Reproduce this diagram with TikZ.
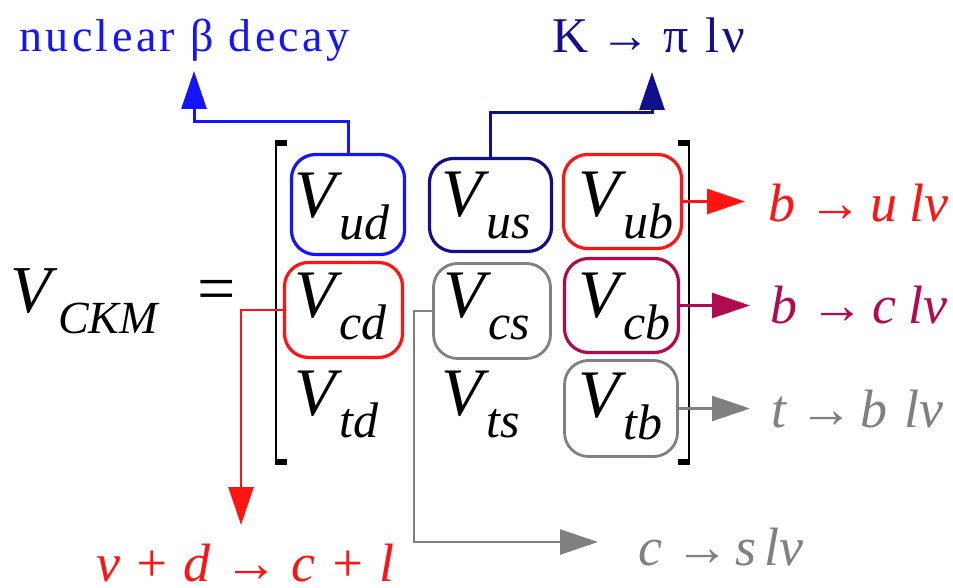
\documentclass[tikz,border=0pt]{standalone}
\usepackage{fontspec}
\setmainfont{Liberation Serif}
\usetikzlibrary{arrows.meta}
\definecolor{cblue}{RGB}{20,20,255}
\definecolor{cnavy}{RGB}{16,16,140}
\definecolor{cred}{RGB}{255,20,20}
\definecolor{ccrim}{RGB}{176,10,80}
\definecolor{cgray}{RGB}{128,128,128}
\newcommand\myV[1]{{\fontsize{68}{68}\selectfont\itshape V}\kern4pt\raisebox{-22pt}{\fontsize{50}{50}\selectfont\itshape #1}}
\begin{document}
\begin{tikzpicture}[x=1pt,y=-1pt,
  box/.style={draw, rounded corners=24pt, line width=3.2pt, inner sep=0pt},
  ent/.style={inner sep=0pt, anchor=base west},
  lab/.style={inner sep=0pt, anchor=base west},
  conn/.style={line width=3pt, -{Triangle[length=38pt,width=25pt]}},
  thin/.style={line width=2.6pt, -{Triangle[length=38pt,width=25pt]}}]
\useasboundingbox (0,0) rectangle (953,588);
% boxes
\node[box, draw=cblue, minimum width=113pt, minimum height=100pt] (ud) at (348,204.5) {};
\node[box, draw=cnavy, minimum width=122pt, minimum height=93pt] (us) at (490.5,205) {};
\node[box, draw=cred, minimum width=118pt, minimum height=94pt] (ub) at (622.5,201.5) {};
\node[box, draw=cred, minimum width=118pt, minimum height=95pt] (cd) at (343.5,310) {};
\node[box, draw=cgray, line width=2.8pt, minimum width=117pt, minimum height=95pt] (cs) at (492,311) {};
\node[box, draw=ccrim, minimum width=114pt, minimum height=94pt] (cb) at (621.5,305.5) {};
\node[box, draw=cgray, line width=2.8pt, minimum width=113pt, minimum height=96pt] (tb) at (621,408.5) {};
% entries
\node[ent] (eud) at (294,218) {\myV{ud}};
\node[ent] (eus) at (441,217) {\myV{us}};
\node[ent] (eub) at (578,217) {\myV{ub}};
\node[ent] (ecd) at (294,317) {\myV{cd}};
\node[ent] (ecs) at (443,317) {\myV{cs}};
\node[ent] (ecb) at (578,317) {\myV{cb}};
\node[ent] (etd) at (294,415) {\myV{td}};
\node[ent] (ets) at (441,415) {\myV{ts}};
\node[ent] (etb) at (578,417) {\myV{tb}};
% V_CKM and =
\node[ent] (vckm) at (10,312) {{\fontsize{67}{67}\selectfont\itshape V}\kern7pt\raisebox{-21pt}{\fontsize{46}{46}\selectfont\itshape CKM}};
\node[inner sep=0pt, anchor=base] (eq) at (216.5,311) {\fontsize{68}{68}\selectfont =};
% brackets
\draw[line width=2.5pt] (276,142) -- (276,463);
\fill (274.75,140) rectangle (287,146);
\fill (274.75,459) rectangle (287,465);
\draw[line width=2.5pt] (689,142) -- (689,463);
\fill (678,140) rectangle (690.25,146);
\fill (678,459) rectangle (690.25,465);
% labels
\node[lab, text=cblue] (lbeta) at (19,52) {\fontsize{46}{46}\selectfont\addfontfeature{LetterSpace=7.5}nuclear β decay};
\node[lab, text=cnavy] (lkpi) at (552,53) {\fontsize{50}{50}\selectfont K → π\kern4pt\ l\kern4ptν};
\node[lab, text=cred] (lbu) at (768,222) {\fontsize{54}{54}\selectfont\itshape b\ →\ \kern-6pt u\ \kern-1pt lν};
\node[lab, text=ccrim] (lbc) at (770,323) {\fontsize{54}{54}\selectfont\itshape b\ →\ \kern-6pt c\ \kern-1pt lν};
\node[lab, text=cgray] (ltb) at (771,427) {\fontsize{54}{54}\selectfont\itshape t\ →\ \kern-7pt b\ \kern4pt lν};
\node[lab, text=cred] (lnud) at (96,581) {\fontsize{54}{54}\selectfont\itshape ν + d → c + l};
\node[lab, text=cgray] (lcs) at (638,565) {\fontsize{54}{54}\selectfont\itshape c\ →\ \kern-8pt s\ \kern-5pt lν};
% connectors
\coordinate (bbend) at (194,122);
\coordinate (btip) at (194,71);
\draw[conn, cblue] (ud.north) |- (bbend) -- (btip);
\coordinate (kbend) at (652,113);
\coordinate (ktip) at (652,72);
\draw[conn, cnavy] (us.north) |- (kbend) -- (ktip);
\coordinate (ubtip) at (745,201.5);
\draw[thin, cred] (ub.east) -- (ubtip);
\coordinate (cbtip) at (750,305.5);
\draw[thin, ccrim] (cb.east) -- (cbtip);
\coordinate (tbtip) at (750,408.5);
\draw[thin, cgray] (tb.east) -- (tbtip);
\coordinate (cdtip) at (241,525);
\draw[thin, cred] (cd.west) -| (cdtip);
\coordinate (csbend) at (414,542);
\coordinate (cstip) at (598,542);
\draw[thin, cgray] (cs.west) -| (csbend) -- (cstip);
\end{tikzpicture}
\end{document}
